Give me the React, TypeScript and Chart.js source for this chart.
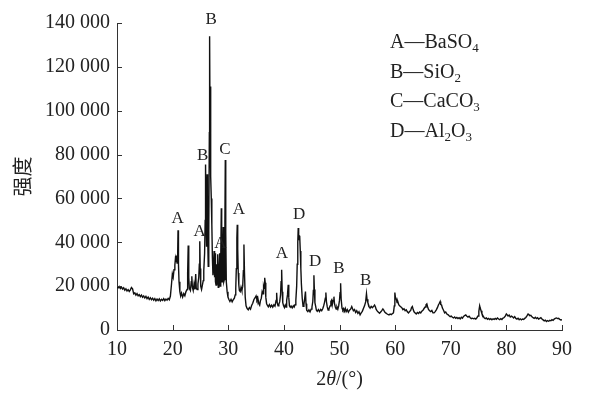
import { useEffect, useRef } from 'react';
import { Chart, registerables } from 'chart.js';

Chart.register(...registerables);

const twoTheta = [
  10.0, 10.2, 10.4, 10.6, 10.8, 11.0, 11.2, 11.4, 11.6, 11.8, 12.0, 12.2, 12.4, 12.6, 12.8,
  13.0, 13.2, 13.4, 13.6, 13.8, 14.0, 14.2, 14.4, 14.6, 14.8, 15.0, 15.2, 15.4, 15.6, 15.8,
  16.0, 16.2, 16.4, 16.6, 16.8, 17.0, 17.2, 17.4, 17.6, 17.8, 18.0, 18.2, 18.4, 18.6, 18.8,
  19.0, 19.2, 19.4, 19.6, 19.8, 19.95, 20.1, 20.25, 20.4, 20.5, 20.6, 20.7, 20.8, 20.9, 20.97,
  21.05, 21.15, 21.3, 21.45, 21.6, 21.8, 22.0, 22.2, 22.4, 22.6, 22.7, 22.8, 22.9, 23.0, 23.2,
  23.35, 23.45, 23.55, 23.7, 23.85, 24.0, 24.15, 24.25, 24.4, 24.55, 24.7, 24.8, 24.88, 24.96, 25.05,
  25.2, 25.35, 25.5, 25.6, 25.75, 25.85, 25.92, 26.0, 26.1, 26.2, 26.28, 26.4, 26.5, 26.6, 26.65,
  26.72, 26.8, 26.88, 26.95, 27.05, 27.15, 27.25, 27.35, 27.45, 27.55, 27.62, 27.7, 27.8, 27.9, 27.98,
  28.1, 28.2, 28.3, 28.45, 28.55, 28.65, 28.75, 28.82, 28.9, 29.0, 29.1, 29.2, 29.3, 29.4, 29.47,
  29.55, 29.65, 29.8, 29.95, 30.1, 30.3, 30.5, 30.7, 30.9, 31.1, 31.25, 31.35, 31.45, 31.55, 31.62,
  31.7, 31.8, 31.9, 32.0, 32.15, 32.3, 32.45, 32.6, 32.72, 32.82, 32.92, 33.05, 33.2, 33.4, 33.6,
  33.8, 34.0, 34.2, 34.4, 34.6, 34.8, 35.0, 35.15, 35.3, 35.5, 35.65, 35.8, 35.95, 36.1, 36.25,
  36.35, 36.45, 36.55, 36.65, 36.75, 36.9, 37.05, 37.2, 37.4, 37.6, 37.8, 38.0, 38.2, 38.4, 38.6,
  38.7, 38.8, 38.95, 39.1, 39.25, 39.4, 39.5, 39.6, 39.7, 39.8, 39.95, 40.1, 40.25, 40.4, 40.5,
  40.65, 40.78, 40.88, 41.0, 41.15, 41.3, 41.5, 41.7, 41.85, 42.0, 42.15, 42.3, 42.4, 42.5, 42.58,
  42.66, 42.75, 42.85, 42.95, 43.05, 43.15, 43.3, 43.45, 43.6, 43.75, 43.88, 43.98, 44.1, 44.3, 44.5,
  44.7, 44.9, 45.05, 45.2, 45.3, 45.4, 45.48, 45.58, 45.7, 45.85, 46.0, 46.2, 46.4, 46.6, 46.8,
  47.0, 47.15, 47.3, 47.45, 47.55, 47.65, 47.8, 47.95, 48.1, 48.3, 48.45, 48.6, 48.7, 48.85, 49.0,
  49.1, 49.25, 49.4, 49.55, 49.7, 49.85, 50.0, 50.1, 50.2, 50.3, 50.45, 50.6, 50.75, 50.9, 51.05,
  51.2, 51.4, 51.6, 51.8, 52.0, 52.2, 52.35, 52.5, 52.7, 52.9, 53.1, 53.3, 53.5, 53.7, 53.9,
  54.1, 54.3, 54.5, 54.7, 54.85, 54.95, 55.1, 55.3, 55.5, 55.7, 55.9, 56.1, 56.3, 56.45, 56.6,
  56.8, 57.0, 57.2, 57.4, 57.6, 57.8, 57.95, 58.1, 58.3, 58.5, 58.7, 58.9, 59.1, 59.3, 59.5,
  59.7, 59.85, 59.95, 60.05, 60.2, 60.35, 60.5, 60.65, 60.8, 61.0, 61.2, 61.4, 61.6, 61.8, 62.0,
  62.2, 62.4, 62.6, 62.8, 62.95, 63.1, 63.25, 63.4, 63.6, 63.8, 64.0, 64.2, 64.4, 64.6, 64.8,
  65.0, 65.2, 65.4, 65.55, 65.7, 65.85, 66.0, 66.2, 66.4, 66.6, 66.8, 67.0, 67.2, 67.4, 67.6,
  67.8, 67.95, 68.1, 68.2, 68.35, 68.5, 68.7, 68.9, 69.1, 69.3, 69.5, 69.7, 69.9, 70.1, 70.3,
  70.5, 70.7, 70.9, 71.1, 71.3, 71.5, 71.7, 71.9, 72.1, 72.3, 72.5, 72.7, 72.9, 73.1, 73.3,
  73.5, 73.7, 73.9, 74.1, 74.3, 74.5, 74.7, 74.9, 75.05, 75.2, 75.3, 75.45, 75.6, 75.8, 76.0,
  76.2, 76.4, 76.6, 76.8, 77.0, 77.2, 77.4, 77.6, 77.8, 78.0, 78.2, 78.4, 78.6, 78.8, 79.0,
  79.2, 79.4, 79.6, 79.8, 80.0, 80.15, 80.3, 80.5, 80.7, 80.9, 81.1, 81.3, 81.5, 81.7, 81.9,
  82.1, 82.3, 82.5, 82.7, 82.9, 83.1, 83.3, 83.5, 83.7, 83.9, 84.05, 84.2, 84.4, 84.6, 84.8,
  85.0, 85.2, 85.4, 85.6, 85.8, 86.0, 86.2, 86.4, 86.6, 86.8, 87.0, 87.2, 87.4, 87.6, 87.8,
  88.0, 88.2, 88.4, 88.6, 88.8, 89.0, 89.2, 89.4, 89.6, 89.8, 90.0,
];

const intensity = [
  20000, 19200, 19800, 18900, 19500, 18700, 19300, 18200, 18800, 17800, 18400, 17600, 18300, 19400, 18800,
  16500, 16900, 15900, 16600, 15600, 16100, 15200, 15900, 14900, 15500, 14600, 15300, 14300, 15000, 14000,
  14700, 13800, 14500, 13600, 14300, 13300, 14100, 13400, 14200, 13300, 14000, 13500, 14300, 13400, 14100,
  13600, 14400, 13800, 15500, 21000, 25500, 24000, 27500, 29500, 32500, 31000, 34000, 30500, 33500, 45500,
  30000, 22000, 17500, 15500, 16800, 15000, 16600, 15600, 17500, 18500, 26000, 38500, 24000, 19000, 18000,
  22000, 24500, 19500, 18000, 21000, 18500, 25500, 19000, 18500, 21000, 24000, 30000, 40500, 28000, 20000,
  18500, 20500, 22500, 27000, 35000, 50000, 75500, 52000, 38000, 71000, 46000, 29000, 45000, 90000, 134000,
  95000, 111000, 70000, 60000, 48000, 33000, 25000, 29000, 36000, 24000, 35000, 22000, 20500, 30000, 21000,
  34500, 19500, 23000, 35000, 20000, 32000, 55500, 42000, 22000, 34000, 47000, 22000, 23000, 50000, 77500,
  45000, 22000, 17500, 15000, 14000, 13000, 14000, 12800, 13800, 14500, 16000, 19000, 28000, 42000, 48000,
  37000, 26000, 20500, 18000, 17500, 19500, 18000, 20000, 27000, 39000, 26000, 15000, 11000, 9800, 9200,
  10200, 9500, 11200, 12200, 13800, 14600, 15500, 13800, 14800, 12000, 11300, 13500, 14500, 17500, 16500,
  20000, 19000, 23800, 21500, 15000, 12000, 11200, 10600, 11600, 10500, 11300, 10400, 11500, 10900, 13500,
  17000, 12500, 11000, 11800, 12800, 16000, 22000, 27500, 17500, 12500, 11000, 10200, 11400, 10500, 13500,
  16000, 20600, 15000, 11000, 10400, 10900, 10100, 11000, 10500, 11500, 13500, 20000, 30000, 40000, 46500,
  41000, 43000, 42500, 36000, 28000, 21000, 14500, 10800, 11500, 14500, 17500, 12000, 9000, 8400, 9200,
  8300, 9500, 10500, 13000, 18000, 25000, 18500, 12500, 11000, 9000, 8500, 9300, 8400, 9400, 8800,
  9800, 11000, 12500, 14500, 17100, 13000, 10500, 9100, 9600, 11000, 13000, 13700, 11500, 13500, 15200,
  12000, 10500, 9600, 10500, 9500, 11000, 13500, 17000, 21300, 14000, 10000, 9100, 9800, 8600, 9800,
  8400, 9300, 8100, 9000, 9500, 10700, 9700, 8800, 9300, 8000, 8800, 7600, 8300, 6900, 7800,
  8500, 9800, 11000, 12800, 16500, 14000, 12500, 10800, 10000, 10800, 10200, 10700, 11400, 10600, 9400,
  8600, 8100, 7600, 8200, 8800, 9600, 9100, 8300, 7800, 7400, 7100, 6900, 7300, 7000, 7400,
  7800, 11000, 17100, 15000, 14200, 12500, 12800, 11500, 11000, 10600, 10200, 9300, 9700, 8800, 9200,
  8300, 7800, 8400, 8900, 10200, 10700, 9300, 8300, 7800, 7300, 8000, 7500, 8200, 7800, 8600,
  9000, 9800, 10500, 11500, 11900, 10500, 9400, 8800, 8400, 8900, 7800, 7800, 8400, 9200, 10200,
  11500, 12200, 13000, 11600, 11400, 10000, 9000, 7800, 8200, 7300, 7000, 6500, 6100, 6300, 5800,
  5500, 5900, 5300, 5700, 5200, 5600, 5100, 5800, 5400, 6200, 6600, 6900, 6300, 5900, 6300,
  5600, 5200, 5400, 5100, 5300, 5000, 5600, 6400, 8500, 11000, 10000, 8800, 7500, 6400, 5600,
  5200, 5500, 4900, 5300, 4800, 5200, 4700, 5100, 4800, 5300, 4900, 5500, 5000, 4700, 5200,
  4800, 5400, 5700, 6300, 7300, 6900, 6400, 6800, 5900, 6300, 6000, 5500, 6100, 5300, 5000,
  5400, 4700, 5100, 4600, 5000, 4800, 5300, 5700, 6400, 7300, 7000, 6500, 6700, 6000, 5600,
  5300, 5800, 5200, 5600, 5000, 5300, 5600, 5000, 4600, 4200, 4500, 3900, 4300, 4000, 4400,
  4200, 4700, 4400, 5000, 5300, 5500, 5200, 5300, 4800, 4600, 4700,
];

// Phase marker letters above peaks (text centre position in data units)
const peakLetters = ['A', 'A', 'B', 'B', 'C', 'A', 'A', 'A', 'D', 'D', 'B', 'B'];
const peakLetterTheta = [20.91, 24.85, 25.42, 26.95, 29.42, 28.58, 31.93, 39.66, 42.75, 45.6, 49.9, 54.7];
const peakLetterIntensity = [50900, 45000, 79700, 141800, 82350, 39300, 54900, 34800, 52600, 31250, 27900, 22600];

// Legend: phase letter and chemical formula pieces ([text, isSubscript])
const legendLetters = ['A', 'B', 'C', 'D'];
const legendFormulas: [string, boolean][][] = [
  [['BaSO', false], ['4', true]],
  [['SiO', false], ['2', true]],
  [['CaCO', false], ['3', true]],
  [['Al', false], ['2', true], ['O', false], ['3', true]],
];

const xTitleParts: [string, boolean][] = [['2', false], ['θ', true], ['/(°)', false]];
const yTitle = '强度';

const SERIF = '"Liberation Serif", "DejaVu Serif", serif';
const TEXT = '#222';
const AXIS = '#333';

function formatThousands(v: number): string {
  return String(v).replace(/\B(?=(\d{3})+(?!\d))/g, ' ');
}

const decorPlugin = {
  id: 'decor',
  afterDraw(chart: any) {
    const { ctx, chartArea, scales } = chart;
    const xs = scales.x;
    const ys = scales.y;
    ctx.save();
    // inward tick marks
    ctx.strokeStyle = AXIS;
    ctx.lineWidth = 1;
    ctx.beginPath();
    xs.ticks.forEach((t: any) => {
      const px = Math.round(xs.getPixelForValue(t.value)) + 0.5;
      ctx.moveTo(px, chartArea.bottom);
      ctx.lineTo(px, chartArea.bottom - 5);
    });
    ys.ticks.forEach((t: any) => {
      const py = Math.round(ys.getPixelForValue(t.value)) + 0.5;
      ctx.moveTo(chartArea.left, py);
      ctx.lineTo(chartArea.left + 5, py);
    });
    ctx.stroke();

    // peak letters
    ctx.fillStyle = TEXT;
    ctx.font = `17px ${SERIF}`;
    ctx.textAlign = 'center';
    ctx.textBaseline = 'middle';
    peakLetters.forEach((l, i) => {
      ctx.fillText(l, xs.getPixelForValue(peakLetterTheta[i]), ys.getPixelForValue(peakLetterIntensity[i]));
    });

    // legend
    ctx.textAlign = 'left';
    ctx.textBaseline = 'alphabetic';
    const lx = chartArea.left + 273;
    legendLetters.forEach((l, i) => {
      const by = chartArea.top + 25 + i * 29.7;
      let x = lx;
      ctx.font = `20px ${SERIF}`;
      const head = l + '\u2014';
      ctx.fillText(head, x, by);
      x += ctx.measureText(head).width;
      legendFormulas[i].forEach(([t, sub]) => {
        ctx.font = sub ? `13px ${SERIF}` : `20px ${SERIF}`;
        ctx.fillText(t, x, sub ? by + 4 : by);
        x += ctx.measureText(t).width;
      });
    });

    // x-axis title with italic theta
    ctx.textBaseline = 'middle';
    let total = 0;
    xTitleParts.forEach(([t, it]) => {
      ctx.font = `${it ? 'italic ' : ''}20px ${SERIF}`;
      total += ctx.measureText(t).width;
    });
    let tx = (chartArea.left + chartArea.right) / 2 - total / 2;
    xTitleParts.forEach(([t, it]) => {
      ctx.font = `${it ? 'italic ' : ''}20px ${SERIF}`;
      ctx.fillText(t, tx, 380);
      tx += ctx.measureText(t).width;
    });
    ctx.restore();
  },
};

export default function App() {
  const canvasRef = useRef<HTMLCanvasElement | null>(null);

  useEffect(() => {
    const canvas = canvasRef.current;
    if (!canvas) return;
    const points = twoTheta.map((x, i) => ({ x, y: intensity[i] }));
    const chart = new Chart(canvas, {
      type: 'line',
      data: {
        datasets: [
          {
            data: points,
            borderColor: '#111',
            borderWidth: 1.4,
            pointRadius: 0,
            tension: 0,
            fill: false,
          },
        ],
      },
      options: {
        animation: false,
        responsive: false,
        maintainAspectRatio: false,
        devicePixelRatio: 1,
        layout: { padding: { top: 23, right: 27, left: 0, bottom: 0 } },
        plugins: { legend: { display: false }, tooltip: { enabled: false } },
        scales: {
          x: {
            type: 'linear',
            min: 10,
            max: 90,
            grid: { display: false, drawTicks: false },
            border: { display: true, color: AXIS, width: 1 },
            ticks: { stepSize: 10, color: TEXT, font: { family: SERIF, size: 20 }, padding: 8, maxRotation: 0 },
            afterFit: (s: any) => {
              s.height = 66;
            },
          },
          y: {
            min: 0,
            max: 140000,
            grid: { display: false, drawTicks: false },
            border: { display: true, color: AXIS, width: 1 },
            ticks: {
              stepSize: 20000,
              color: TEXT,
              font: { family: SERIF, size: 20 },
              padding: 7,
              callback: (v: any) => formatThousands(Number(v)),
            },
            title: {
              display: true,
              text: yTitle,
              color: TEXT,
              font: { family: '"Noto Sans CJK SC", sans-serif', size: 20 },
              padding: { top: 10, bottom: 10 },
            },
            afterFit: (s: any) => {
              s.width = 117;
            },
          },
        },
      },
      plugins: [decorPlugin],
    });
    return () => chart.destroy();
  }, []);

  return (
    <div style={{ position: 'fixed', left: 0, top: 0, width: 589, height: 396, background: '#fff' }}>
      <canvas ref={canvasRef} width={589} height={396} style={{ display: 'block' }} />
    </div>
  );
}
